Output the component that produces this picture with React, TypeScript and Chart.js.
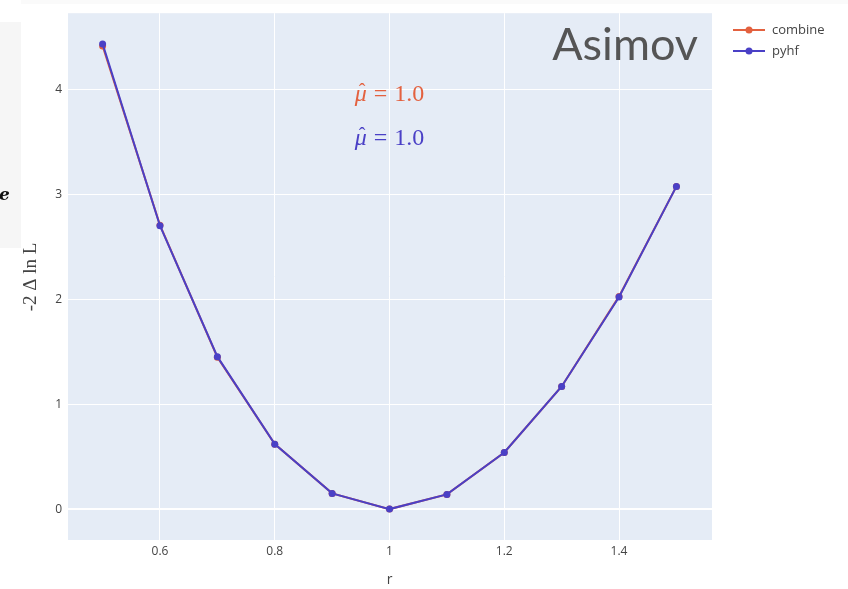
import React, { useEffect, useRef } from "react";
import { Chart, registerables } from "chart.js";

Chart.register(...registerables);

const rValues = [0.5, 0.6, 0.7, 0.8, 0.9, 1.0, 1.1, 1.2, 1.3, 1.4, 1.5];
const combineValues = [4.42, 2.71, 1.45, 0.62, 0.15, 0.0, 0.14, 0.54, 1.17, 2.03, 3.08];
const pyhfValues = [4.44, 2.705, 1.455, 0.62, 0.15, 0.0, 0.14, 0.54, 1.17, 2.025, 3.08];
const xTickValues = [0.6, 0.8, 1, 1.2, 1.4];
const yTickValues = [0, 1, 2, 3, 4];
const seriesNames = ["combine", "pyhf"];
const muHatCombine = "1.0";
const muHatPyhf = "1.0";

const RED = "#e3613f";
const BLUE = "#4a40c6";
const TEXT = "#444444";

const W = 848;
const H = 589;

const overlayPlugin = {
  id: "overlay",
  beforeDraw(chart: any) {
    const ctx = chart.ctx;
    ctx.save();
    ctx.fillStyle = "#ffffff";
    ctx.fillRect(0, 0, W, H);
    // screenshot artifacts
    ctx.fillStyle = "#f6f6f6";
    ctx.fillRect(0, 22, 21, 226);
    ctx.fillStyle = "#fafafa";
    ctx.fillRect(21, 0, W - 21, 4);
    ctx.fillStyle = "#111111";
    ctx.font = "italic bold 17px 'DejaVu Serif'";
    ctx.textBaseline = "alphabetic";
    ctx.textAlign = "left";
    ctx.fillText("e", -1, 200);
    // plot background
    const a = chart.chartArea;
    ctx.fillStyle = "#e5ecf6";
    ctx.fillRect(a.left, a.top, a.right - a.left, a.bottom - a.top);
    ctx.restore();
  },
  afterDraw(chart: any) {
    const ctx = chart.ctx;
    const xs = chart.scales.x;
    ctx.save();
    // annotations mu-hat
    const drawMu = (y: number, color: string, val: string) => {
      const cx = xs.getPixelForValue(1.0);
      ctx.fillStyle = color;
      ctx.textBaseline = "alphabetic";
      ctx.font = "italic 24px 'Liberation Serif'";
      const muW = ctx.measureText("μ").width;
      ctx.font = "24px 'Liberation Serif'";
      const eq = "=";
      const eqW = ctx.measureText(eq).width;
      const valW = ctx.measureText(val).width;
      const gap = 7;
      const total = muW + gap + eqW + gap + valW;
      const x0 = cx - total / 2;
      ctx.textAlign = "left";
      ctx.font = "italic 24px 'Liberation Serif'";
      ctx.fillText("μ", x0, y);
      ctx.font = "20px 'Liberation Serif'";
      ctx.fillText("ˆ", x0 + 4, y - 3);
      ctx.font = "24px 'Liberation Serif'";
      ctx.fillText(eq, x0 + muW + gap, y);
      ctx.fillText(val, x0 + muW + gap + eqW + gap, y);
    };
    drawMu(101, RED, muHatCombine);
    drawMu(145, BLUE, muHatPyhf);

    // Asimov label
    ctx.fillStyle = "#555555";
    ctx.font = "400 45px Lato";
    ctx.textAlign = "right";
    ctx.textBaseline = "alphabetic";
    ctx.fillText("Asimov", 698, 60);

    // legend
    const colors = [RED, BLUE];
    const ys = [30, 51];
    seriesNames.forEach((name, i) => {
      ctx.strokeStyle = colors[i];
      ctx.lineWidth = 2;
      ctx.beginPath();
      ctx.moveTo(733, ys[i]);
      ctx.lineTo(765, ys[i]);
      ctx.stroke();
      ctx.fillStyle = colors[i];
      ctx.beginPath();
      ctx.arc(749, ys[i], 3.5, 0, Math.PI * 2);
      ctx.fill();
      ctx.fillStyle = TEXT;
      ctx.font = "13px 'Open Sans'";
      ctx.textAlign = "left";
      ctx.textBaseline = "middle";
      ctx.fillText(name, 772, ys[i]);
    });

    // axis titles
    ctx.fillStyle = TEXT;
    ctx.font = "14px 'Open Sans'";
    ctx.textAlign = "center";
    ctx.textBaseline = "middle";
    ctx.fillText("r", xs.getPixelForValue(1.0), 580);

    ctx.save();
    ctx.translate(31, 277);
    ctx.rotate(-Math.PI / 2);
    ctx.font = "19px 'Liberation Serif'";
    ctx.fillStyle = TEXT;
    ctx.textAlign = "center";
    ctx.textBaseline = "middle";
    ctx.fillText("-2 Δ ln L", 0, 0);
    ctx.restore();

    ctx.restore();
  },
};

export default function App() {
  const ref = useRef<HTMLCanvasElement | null>(null);
  useEffect(() => {
    document.body.style.margin = "0";
    const canvas = ref.current!;
    const chart = new Chart(canvas, {
      type: "line",
      data: {
        datasets: [
          {
            label: seriesNames[0],
            data: rValues.map((x, i) => ({ x, y: combineValues[i] })),
            borderColor: RED,
            backgroundColor: RED,
            borderWidth: 2,
            pointRadius: 3.5,
            pointBorderWidth: 0,
            tension: 0,
            order: 2,
          },
          {
            label: seriesNames[1],
            data: rValues.map((x, i) => ({ x, y: pyhfValues[i] })),
            borderColor: BLUE,
            backgroundColor: BLUE,
            borderWidth: 2,
            pointRadius: 3.5,
            pointBorderWidth: 0,
            tension: 0,
            order: 1,
          },
        ],
      },
      options: {
        animation: false,
        responsive: false,
        devicePixelRatio: 1,
        layout: { padding: { left: 0, top: 12, right: W - 712, bottom: 0 } },
        plugins: { legend: { display: false }, tooltip: { enabled: false } },
        scales: {
          x: {
            type: "linear",
            min: 0.4397,
            max: 1.562,
            afterBuildTicks: (s: any) => {
              s.ticks = xTickValues.map((v) => ({ value: v }));
            },
            afterFit: (s: any) => {
              s.height = H - 540;
            },
            border: { display: false },
            grid: { color: "#ffffff", lineWidth: 1, drawTicks: false },
            ticks: {
              color: TEXT,
              font: { family: "'Open Sans'", size: 12 },
              padding: 4,
              maxRotation: 0,
              callback: (v: any) => String(v),
            },
          },
          y: {
            type: "linear",
            min: -0.295,
            max: 4.733,
            afterBuildTicks: (s: any) => {
              s.ticks = yTickValues.map((v) => ({ value: v }));
            },
            afterFit: (s: any) => {
              s.width = 68;
            },
            border: { display: false },
            grid: {
              color: "#ffffff",
              lineWidth: (c: any) => (c.tick && c.tick.value === 0 ? 2 : 1),
              drawTicks: false,
            },
            ticks: {
              color: TEXT,
              font: { family: "'Open Sans'", size: 12 },
              padding: 6,
              callback: (v: any) => String(v),
            },
          },
        },
      },
      plugins: [overlayPlugin],
    } as any);
    return () => chart.destroy();
  }, []);
  return (
    <div style={{ position: "absolute", left: 0, top: 0, width: W, height: H }}>
      <canvas ref={ref} width={W} height={H} style={{ width: W, height: H }} />
    </div>
  );
}
